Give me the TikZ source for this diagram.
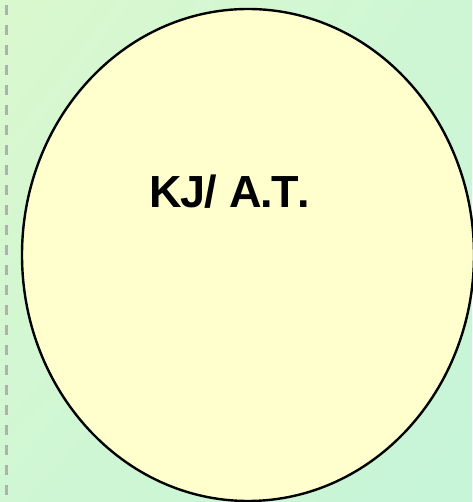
\documentclass[tikz,border=0pt]{standalone}
\usepackage{fontspec}
\setmainfont{Liberation Sans}
\usetikzlibrary{positioning,shadings}
\definecolor{bgleft}{RGB}{218,248,206}
\definecolor{bgright}{RGB}{198,245,216}
\definecolor{blobfill}{RGB}{255,255,206}
\definecolor{dashgray}{RGB}{176,176,176}

\begin{document}
\begin{tikzpicture}[x=1pt,y=1pt]
      \useasboundingbox (0,0) rectangle (472,502);
      % background
      \shade[upper left=bgleft,upper right=bgright!60!bgleft,lower left=bgleft!50!bgright,lower right=bgright] (0,0) rectangle (472,502);
      % dashed border line on the left
      \draw[dashgray,line width=3pt,dash pattern=on 10pt off 10pt] (6,497) -- (6,0);
      % the big circle
      \draw[fill=blobfill,line width=2.4pt] (248,247) ellipse [x radius=226,y radius=246];
      % label
      \node[font=\bfseries\fontsize{45}{45}\selectfont,inner sep=0] (initials) at (230,310) {K\kern-2pt J\kern-1pt/ A\kern-1pt.\kern-2pt T\kern-1pt.};
    \end{tikzpicture}
\end{document}
